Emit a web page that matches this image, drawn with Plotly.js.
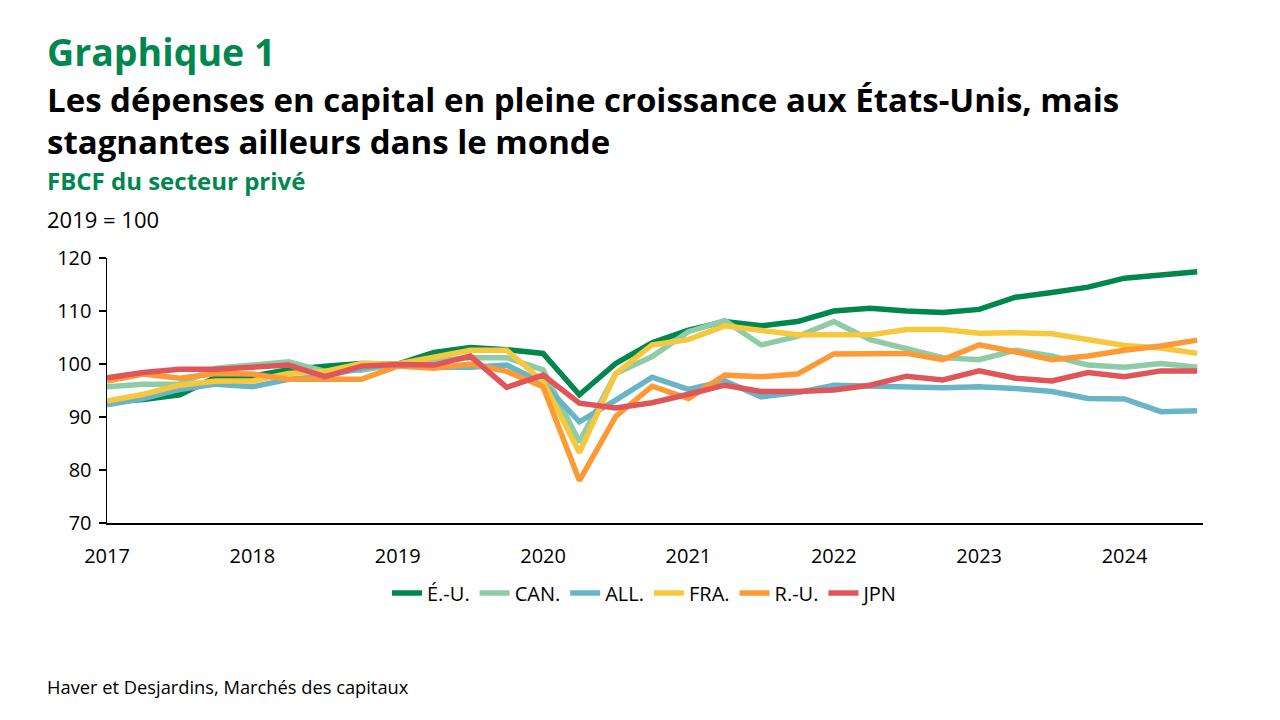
<!DOCTYPE html>
<html>
<head>
<meta charset="utf-8">
<script src="https://cdn.plot.ly/plotly-3.0.1.min.js"></script>
<style>
html,body{margin:0;padding:0;background:#fff;}
#chart{width:1280px;height:720px;}
</style>
</head>
<body>
<div id="chart"></div>
<script>
// Quarterly, 2017Q1 .. 2024Q3
const startYear = 2017;
const nQuarters = 31;
const quarters = Array.from({length: nQuarters}, (_, i) => startYear + i * 0.25);

const yearTicks = [2017, 2018, 2019, 2020, 2021, 2022, 2023, 2024];
const yearLabels = ["2017", "2018", "2019", "2020", "2021", "2022", "2023", "2024"];

const seriesNames = ["É.-U.", "CAN.", "ALL.", "FRA.", "R.-U.", "JPN"];

const usa = [92.8, 93.3, 94.2, 97.5, 97.7, 98.9, 99.6, 100.1, 100.0, 102.2, 103.1, 102.7, 102.0, 94.2, 100.1, 104.0, 106.4, 108.0, 107.2, 108.0, 110.0, 110.5, 110.0, 109.7, 110.3, 112.6, 113.5, 114.5, 116.2, 116.8, 117.4];
const can = [95.7, 96.2, 96.2, 99.2, 99.8, 100.4, 98.6, 98.8, 100.0, 100.6, 101.2, 101.2, 98.9, 85.3, 98.2, 101.4, 106.1, 108.2, 103.6, 105.2, 108.0, 104.6, 102.8, 101.2, 100.8, 102.6, 101.5, 99.8, 99.4, 100.1, 99.4];
const deu = [92.3, 93.5, 95.2, 96.2, 95.7, 97.1, 97.8, 99.2, 100.0, 99.4, 99.4, 99.8, 96.4, 89.1, 93.2, 97.5, 95.2, 96.8, 93.8, 94.6, 96.0, 95.8, 95.6, 95.5, 95.7, 95.4, 94.8, 93.5, 93.4, 91.0, 91.2];
const fra = [93.0, 94.3, 96.0, 96.8, 96.8, 98.2, 98.6, 100.1, 100.0, 101.4, 102.6, 102.6, 96.7, 83.3, 98.2, 103.6, 104.6, 107.2, 106.4, 105.5, 105.5, 105.5, 106.5, 106.5, 105.8, 105.9, 105.7, 104.5, 103.5, 103.0, 102.0];
const gbr = [96.8, 98.1, 97.3, 98.2, 98.1, 97.1, 97.1, 97.1, 99.6, 99.2, 100.0, 98.6, 95.7, 78.0, 90.1, 95.8, 93.5, 97.9, 97.6, 98.1, 101.9, 101.9, 102.0, 100.8, 103.6, 102.3, 100.8, 101.5, 102.6, 103.4, 104.5];
const jpn = [97.4, 98.4, 99.0, 99.0, 99.4, 99.8, 97.6, 99.6, 99.9, 99.8, 101.5, 95.6, 97.9, 92.6, 91.7, 92.7, 94.3, 96.0, 94.8, 94.8, 95.1, 96.0, 97.7, 97.0, 98.7, 97.3, 96.8, 98.4, 97.6, 98.7, 98.7];

const seriesValues = [usa, can, deu, fra, gbr, jpn];
const seriesColors = ["#00874E", "#90CBA8", "#6AB4C8", "#F6C83E", "#FD9A36", "#E05559"];

const titleMain = "Graphique 1";
const titleLine1 = "Les dépenses en capital en pleine croissance aux États-Unis, mais";
const titleLine2 = "stagnantes ailleurs dans le monde";
const subtitle = "FBCF du secteur privé";
const unitLabel = "2019 = 100";
const sourceText = "Haver et Desjardins, Marchés des capitaux";

const FONT = "'Open Sans', sans-serif";
const GREEN = "#00874E";

// plot area in pixels
const L = 107, R = 1203, T = 258, B = 523;
const px = x => (x - L) / (R - L);
const py = y => (B - y) / (B - T);

const traces = seriesNames.map((name, k) => ({
  type: "scatter",
  mode: "lines",
  name: name,
  x: quarters,
  y: seriesValues[k],
  line: {color: seriesColors[k], width: 5.5},
  hoverinfo: "x+y+name"
}));

function ann(text, x, y, size, color, bold) {
  return {
    text: bold ? "<b>" + text + "</b>" : text,
    xref: "paper", yref: "paper",
    x: px(x), y: py(y),
    xanchor: "left", yanchor: "middle",
    showarrow: false,
    font: {family: FONT, size: size, color: color},
    borderpad: 0
  };
}

const layout = {
  width: 1280, height: 720,
  paper_bgcolor: "#ffffff", plot_bgcolor: "#ffffff",
  margin: {l: L, r: 1280 - R, t: T, b: 720 - B, pad: 0},
  showlegend: true,
  legend: {
    orientation: "h",
    x: px(645), xanchor: "center",
    y: py(593), yanchor: "middle",
    font: {family: FONT, size: 20, color: "#000"},
    itemwidth: 30,
    tracegroupgap: 0,
    traceorder: "normal"
  },
  xaxis: {
    range: [2017, 2024.54],
    tickvals: yearTicks,
    ticktext: yearLabels,
    showgrid: false, zeroline: false,
    showline: true, linecolor: "#000", linewidth: 1.5,
    ticks: "",
    ticklabelstandoff: 14,
    tickfont: {family: FONT, size: 20, color: "#000"}
  },
  yaxis: {
    range: [70, 120],
    tickvals: [70, 80, 90, 100, 110, 120],
    showgrid: false, zeroline: false,
    showline: true, linecolor: "#000", linewidth: 1.5,
    ticks: "outside", ticklen: 7, tickcolor: "#000", tickwidth: 1.5,
    ticklabelstandoff: 3,
    tickfont: {family: FONT, size: 20, color: "#000"}
  },
  annotations: [
    ann(titleMain, 46, 51, 37.5, GREEN, true),
    ann(titleLine1, 46, 100, 33, "#000", true),
    ann(titleLine2, 46, 141, 33, "#000", true),
    ann(subtitle, 46, 180, 24, GREEN, true),
    ann(unitLabel, 46, 219, 22, "#000", false),
    ann(sourceText, 46, 686, 18.3, "#000", false)
  ]
};

Plotly.newPlot("chart", traces, layout, {displayModeBar: false, staticPlot: true});
</script>
</body>
</html>
